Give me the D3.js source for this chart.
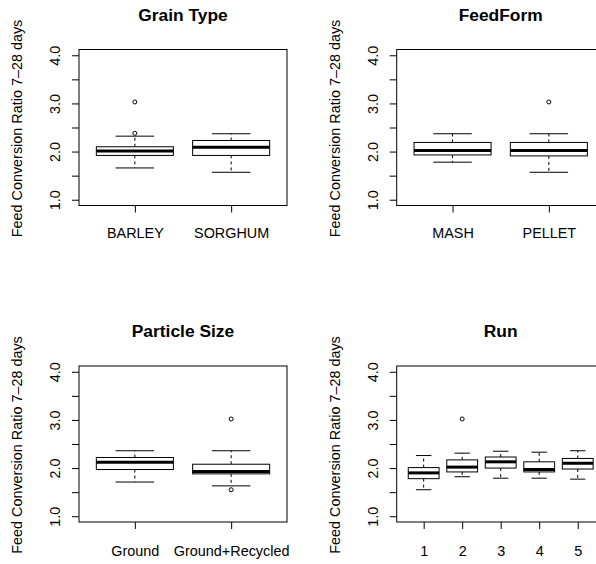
<!DOCTYPE html>
<html>
<head>
<meta charset="utf-8">
<script src="https://cdn.jsdelivr.net/npm/d3@7"></script>
<style>
  body { margin: 0; background: #fff; }
  svg { display: block; font-family: "Liberation Sans", Arial, Helvetica, sans-serif; }
  .tick line { stroke: #000; }
</style>
</head>
<body>
<div id="chart"></div>
<script>
// box stats per group: [lower whisker, Q1, median, Q3, upper whisker]
const grainTypes = ['BARLEY', 'SORGHUM'];
const grainStats = [[1.66, 1.92, 2.01, 2.10, 2.32], [1.57, 1.92, 2.09, 2.23, 2.37]];
const grainOutliers = [[2.38, 3.03], []];

const feedForms = ['MASH', 'PELLET'];
const feedStats = [[1.78, 1.93, 2.02, 2.19, 2.37], [1.57, 1.91, 2.02, 2.19, 2.37]];
const feedOutliers = [[], [3.03]];

const particleSizes = ['Ground', 'Ground+Recycled'];
const particleStats = [[1.71, 1.97, 2.12, 2.22, 2.36], [1.63, 1.88, 1.93, 2.08, 2.36]];
const particleOutliers = [[], [1.55, 3.02]];

const runs = ['1', '2', '3', '4', '5'];
const runStats = [
  [1.55, 1.78, 1.90, 2.01, 2.26],
  [1.82, 1.92, 2.02, 2.17, 2.31],
  [1.79, 2.00, 2.13, 2.23, 2.35],
  [1.79, 1.92, 1.97, 2.13, 2.33],
  [1.77, 1.98, 2.10, 2.20, 2.36]
];
const runOutliers = [[], [3.02], [], [], []];

const yTicks = [1, 1.5, 2, 2.5, 3, 3.5, 4];
const yTickLabels = ['1.0', '', '2.0', '', '3.0', '', '4.0'];
const yLabel = 'Feed Conversion Ratio 7\u201328 days';

const width = 596, height = 564;
const plotW = 208, plotH = 156;

const panels = [
  {title: 'Grain Type', cats: grainTypes, stats: grainStats, out: grainOutliers, left: 79, top: 49.5, titleY: 20.7, labelY: 237.5},
  {title: 'FeedForm', cats: feedForms, stats: feedStats, out: feedOutliers, left: 396.7, top: 49.5, titleY: 20.7, labelY: 237.5},
  {title: 'Particle Size', cats: particleSizes, stats: particleStats, out: particleOutliers, left: 79, top: 366, titleY: 337, labelY: 555.5},
  {title: 'Run', cats: runs, stats: runStats, out: runOutliers, left: 396.7, top: 366, titleY: 337, labelY: 555.5}
];

const svg = d3.select('#chart')
  .append('svg')
    .attr('width', width)
    .attr('height', height);

panels.forEach((p) => {
  const n = p.cats.length;
  const pad = n * 0.04;
  const x = d3.scaleLinear().domain([0.5 - pad, n + 0.5 + pad]).range([0, plotW]);
  const y = d3.scaleLinear().domain([0.88, 4.12]).range([plotH, 0]);

  const g = svg.append('g')
    .attr('transform', 'translate(' + p.left + ',' + p.top + ')');

  // title
  g.append('text')
    .attr('x', plotW / 2)
    .attr('y', p.titleY - p.top)
    .attr('text-anchor', 'middle')
    .style('font-size', '17.4px')
    .style('font-weight', 'bold')
    .text(p.title);

  // y label
  g.append('text')
    .attr('transform', 'translate(' + (22 - 79) + ',' + (plotH / 2 + 1) + ') rotate(-90)')
    .attr('text-anchor', 'middle')
    .style('font-size', '14.4px')
    .text(yLabel);

  // y axis
  const yAxis = g.append('g')
    .call(d3.axisLeft(y).tickValues(yTicks).tickSize(7).tickFormat((d, i) => yTickLabels[i]));
  yAxis.select('.domain').remove();
  yAxis.selectAll('text')
    .attr('x', 0)
    .attr('y', -19)
    .attr('dy', 0)
    .attr('transform', 'rotate(-90)')
    .attr('text-anchor', 'middle')
    .style('font-size', '14.4px')
    .style('font-family', null)
    .attr('fill', '#000');

  // x axis
  const xAxis = g.append('g')
    .attr('transform', 'translate(0,' + plotH + ')')
    .call(d3.axisBottom(x).tickValues(d3.range(1, n + 1)).tickSize(7).tickFormat((d) => p.cats[d - 1]));
  xAxis.select('.domain').remove();
  xAxis.selectAll('text')
    .attr('y', p.labelY - p.top - plotH)
    .attr('dy', 0)
    .style('font-size', '14.4px')
    .attr('fill', '#000');
  g.selectAll('.tick').attr('font-family', null).attr('font-size', null);

  const boxes = g.selectAll('.box')
    .data(p.stats).enter().append('g')
    .attr('class', 'box');

  const hw = x(1.4) - x(1);
  const sw = x(1.2) - x(1);

  // whiskers
  boxes.append('line')
    .attr('x1', (d, i) => x(i + 1)).attr('x2', (d, i) => x(i + 1))
    .attr('y1', (d) => y(d[3])).attr('y2', (d) => y(d[4]))
    .attr('stroke', '#000').attr('stroke-dasharray', '3,3');
  boxes.append('line')
    .attr('x1', (d, i) => x(i + 1)).attr('x2', (d, i) => x(i + 1))
    .attr('y1', (d) => y(d[1])).attr('y2', (d) => y(d[0]))
    .attr('stroke', '#000').attr('stroke-dasharray', '3,3');

  // staples
  [0, 4].forEach((k) => {
    boxes.append('line')
      .attr('x1', (d, i) => x(i + 1) - sw).attr('x2', (d, i) => x(i + 1) + sw)
      .attr('y1', (d) => y(d[k])).attr('y2', (d) => y(d[k]))
      .attr('stroke', '#000');
  });

  boxes.append('rect')
    .attr('x', (d, i) => x(i + 1) - hw)
    .attr('y', (d) => y(d[3]))
    .attr('width', 2 * hw)
    .attr('height', (d) => y(d[1]) - y(d[3]))
    .attr('fill', '#fff')
    .attr('stroke', '#000');

  boxes.append('line')
    .attr('x1', (d, i) => x(i + 1) - hw).attr('x2', (d, i) => x(i + 1) + hw)
    .attr('y1', (d) => y(d[2])).attr('y2', (d) => y(d[2]))
    .attr('stroke', '#000').attr('stroke-width', 3);

  // outliers
  p.out.forEach((vals, i) => {
    g.selectAll(null)
      .data(vals).enter().append('circle')
      .attr('cx', x(i + 1))
      .attr('cy', (d) => y(d))
      .attr('r', 2)
      .attr('fill', 'none')
      .attr('stroke', '#000');
  });

  // plot frame
  g.append('rect')
    .attr('width', plotW)
    .attr('height', plotH)
    .attr('fill', 'none')
    .attr('stroke', '#000');
});
</script>
</body>
</html>
